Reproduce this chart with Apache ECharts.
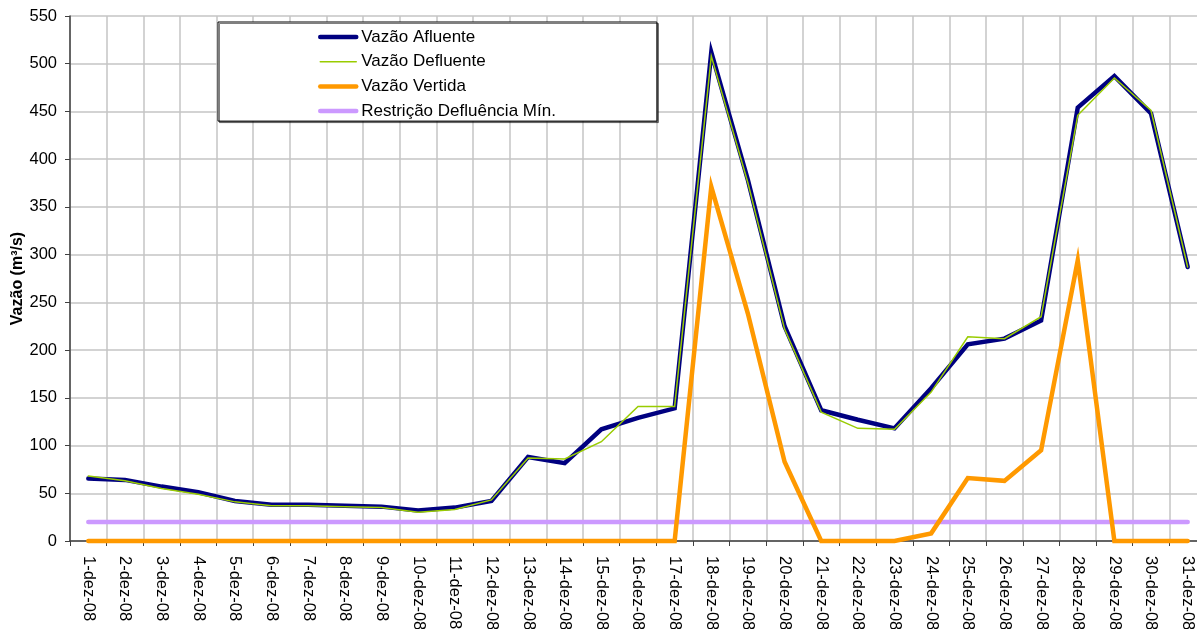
<!DOCTYPE html>
<html>
<head>
<meta charset="utf-8">
<script src="https://cdn.jsdelivr.net/npm/echarts@6/dist/echarts.min.js"></script>
<style>
  html, body { margin: 0; padding: 0; background: #ffffff; overflow: hidden; }
  #chart { width: 1197px; height: 629px; }
</style>
</head>
<body>
<div id="chart"></div>
<script>
// Daily flows at the plant, December 2008 (m³/s)
const dias = [
  '1-dez-08', '2-dez-08', '3-dez-08', '4-dez-08', '5-dez-08', '6-dez-08', '7-dez-08', '8-dez-08',
  '9-dez-08', '10-dez-08', '11-dez-08', '12-dez-08', '13-dez-08', '14-dez-08', '15-dez-08', '16-dez-08',
  '17-dez-08', '18-dez-08', '19-dez-08', '20-dez-08', '21-dez-08', '22-dez-08', '23-dez-08', '24-dez-08',
  '25-dez-08', '26-dez-08', '27-dez-08', '28-dez-08', '29-dez-08', '30-dez-08', '31-dez-08'
];
const vazaoAfluente = [
  65.5, 64, 57, 51, 42, 38, 38, 37, 36, 32, 35, 42, 88, 81.5, 117, 129,
  139, 512, 378, 225, 137, 127, 118, 160, 206, 212, 231, 454, 487, 448, 287
];
const vazaoDefluente = [
  68, 63, 55, 49, 41, 37, 37, 36, 35, 30, 33, 43, 87, 86, 104, 141,
  141, 508, 375, 222, 135, 118, 117, 156, 214, 212, 235, 446, 485, 451, 287
];
const vazaoVertida = [
  0, 0, 0, 0, 0, 0, 0, 0, 0, 0, 0, 0, 0, 0, 0, 0,
  0, 371, 238, 83, 0, 0, 0, 8, 66, 63, 95, 294, 0, 0, 0
];
const restricaoDefluenciaMin = [
  20, 20, 20, 20, 20, 20, 20, 20, 20, 20, 20, 20, 20, 20, 20, 20,
  20, 20, 20, 20, 20, 20, 20, 20, 20, 20, 20, 20, 20, 20, 20
];
const yTicks = { min: 0, max: 550, interval: 50 };

const FONT = '"Liberation Sans", Arial, sans-serif';
const chart = echarts.init(document.getElementById('chart'), null, { renderer: 'canvas' });

const estilos = {
  'Vazão Afluente': { color: '#000080', width: 4.5 },
  'Vazão Defluente': { color: '#99cc00', width: 1.5 },
  'Vazão Vertida': { color: '#ff9900', width: 4.5 },
  'Restrição Defluência Mín.': { color: '#cc99ff', width: 4.5 }
};
const ordemLegenda = ['Vazão Afluente', 'Vazão Defluente', 'Vazão Vertida', 'Restrição Defluência Mín.'];

function lineSeries(name, data, z) {
  const s = estilos[name];
  return {
    name: name,
    type: 'line',
    data: data,
    symbol: 'none',
    clip: false,
    z: z,
    animation: false,
    lineStyle: { color: s.color, width: s.width, cap: 'round', join: 'miter' },
    itemStyle: { color: s.color },
    emphasis: { disabled: true }
  };
}

chart.setOption({
  backgroundColor: '#ffffff',
  animation: false,
  textStyle: { fontFamily: FONT },
  grid: { left: 70, top: 16, bottom: 88, right: -9, containLabel: false, outerBoundsMode: 'none' },
  legend: {
    data: ordemLegenda.map(function (n) {
      return { name: n, lineStyle: { color: estilos[n].color, width: estilos[n].width, cap: 'round' } };
    }),
    orient: 'vertical',
    left: 218,
    top: 22,
    padding: [6.5, 101, 1.5, 100],
    itemWidth: 36,
    itemHeight: 14,
    itemGap: 7.7,
    itemStyle: { opacity: 0 },
    backgroundColor: '#ffffff',
    borderColor: '#000000',
    borderWidth: 1,
    shadowColor: 'rgba(0,0,0,0.5)',
    shadowOffsetX: 1.5,
    shadowOffsetY: 1.5,
    shadowBlur: 0,
    selectedMode: false,
    textStyle: { fontFamily: FONT, fontSize: 17, color: '#000000' }
  },
  xAxis: {
    type: 'category',
    data: dias,
    boundaryGap: true,
    axisLine: { show: true, lineStyle: { color: '#404040', width: 1.5 } },
    axisTick: { show: true, alignWithLabel: false, interval: 0, length: 5, lineStyle: { color: '#404040' } },
    axisLabel: {
      interval: 0,
      rotate: -90,
      margin: 15,
      fontFamily: FONT,
      fontSize: 16.5,
      color: '#000000'
    },
    splitLine: { show: true, interval: 0, lineStyle: { color: '#c4c4c4', width: 1.5 } }
  },
  yAxis: {
    type: 'value',
    min: yTicks.min,
    max: yTicks.max,
    interval: yTicks.interval,
    name: 'Vazão (m³/s)',
    nameLocation: 'middle',
    nameRotate: 90,
    nameGap: 44,
    nameMoveOverlap: false,
    nameTextStyle: { fontFamily: FONT, fontSize: 16, fontWeight: 'bold', color: '#000000' },
    axisLine: { show: true, lineStyle: { color: '#404040', width: 1.5 } },
    axisTick: { show: true, inside: false, length: 5, lineStyle: { color: '#404040' } },
    axisLabel: { margin: 13, fontFamily: FONT, fontSize: 16.5, color: '#000000' },
    splitLine: { show: true, lineStyle: { color: '#c4c4c4', width: 1.5 } }
  },
  series: [
    lineSeries('Restrição Defluência Mín.', restricaoDefluenciaMin, 2),
    lineSeries('Vazão Afluente', vazaoAfluente, 3),
    lineSeries('Vazão Defluente', vazaoDefluente, 4),
    lineSeries('Vazão Vertida', vazaoVertida, 5)
  ]
});
</script>
</body>
</html>
